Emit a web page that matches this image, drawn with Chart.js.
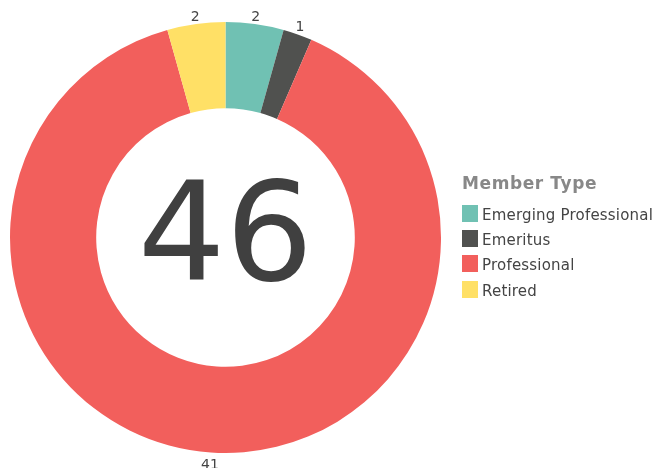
<!DOCTYPE html>
<html lang="en">
<head>
  <meta charset="UTF-8">
  <title>Member Type</title>
  <script src="https://cdn.jsdelivr.net/npm/chart.js"></script>
  <style>
    body { margin: 0; background: #fff; font-family: "DejaVu Sans", Verdana, sans-serif; }
    #wrap { position: absolute; left: 0; top: 0; width: 659px; height: 468px; }
    #legend { position: absolute; left: 462px; top: 173px; color: #444; font-size: 15px; letter-spacing: 0.2px; }
    #legend .title { font-weight: bold; color: #888; font-size: 17px; height: 29px; letter-spacing: 0.6px; }
    #legend .item { height: 25.3px; display: flex; align-items: center; }
    #legend .sw { width: 16px; height: 17px; margin-right: 4px; margin-top: -3px; }
  </style>
</head>
<body>
  <div id="wrap"><canvas id="donut"></canvas></div>
  <div id="legend"></div>

  <script>
    const categories = ['Emerging Professional', 'Emeritus', 'Professional', 'Retired'];
    const counts = [2, 1, 41, 2];
    const colors = ['#70C1B3', '#50514F', '#F25F5C', '#FFE066'];
    const legendTitle = 'Member Type';

    const total = counts.reduce((a, b) => a + b, 0);

    // big number in the hole
    const centerText = {
      id: 'centerText',
      afterDraw(chart) {
        const arc = chart.getDatasetMeta(0).data[0];
        const ctx = chart.ctx;
        ctx.save();
        ctx.fillStyle = '#404040';
        ctx.font = '138px "DejaVu Sans"';
        ctx.textAlign = 'center';
        ctx.textBaseline = 'alphabetic';
        ctx.fillText(String(total), arc.x, arc.y + 42);
        ctx.restore();
      }
    };

    // value labels just outside each slice
    const outsideLabels = {
      id: 'outsideLabels',
      afterDraw(chart) {
        const ctx = chart.ctx;
        const meta = chart.getDatasetMeta(0);
        ctx.save();
        ctx.fillStyle = '#444';
        ctx.font = '14px "DejaVu Sans"';
        ctx.textAlign = 'center';
        ctx.textBaseline = 'middle';
        meta.data.forEach((arc, i) => {
          const mid = (arc.startAngle + arc.endAngle) / 2;
          const r = arc.outerRadius + 7 + 6 * Math.max(0, Math.sin(mid));
          ctx.fillText(String(counts[i]), arc.x + Math.cos(mid) * r, arc.y + Math.sin(mid) * r);
        });
        ctx.restore();
      }
    };

    new Chart(document.getElementById('donut'), {
      type: 'doughnut',
      data: {
        labels: categories,
        datasets: [{
          data: counts,
          backgroundColor: colors,
          borderWidth: 0
        }]
      },
      options: {
        responsive: true,
        maintainAspectRatio: false,
        animation: false,
        cutout: '60%',
        layout: { padding: { left: 10, top: 22, right: 218, bottom: 15 } },
        plugins: { legend: { display: false }, tooltip: { enabled: false } }
      },
      plugins: [centerText, outsideLabels]
    });

    // legend built from the same arrays
    const legend = document.getElementById('legend');
    legend.innerHTML = '<div class="title">' + legendTitle + '</div>' +
      categories.map((c, i) =>
        '<div class="item"><span class="sw" style="background:' + colors[i] + '"></span>' + c + '</div>'
      ).join('');
  </script>
</body>
</html>
